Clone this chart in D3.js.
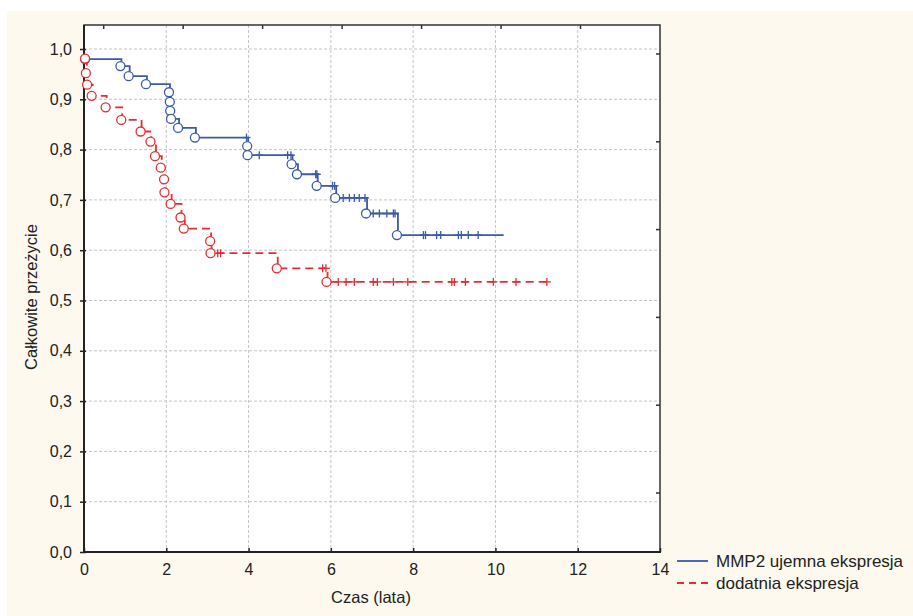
<!DOCTYPE html>
<html><head><meta charset="utf-8">
<script src="https://cdn.jsdelivr.net/npm/d3@7"></script>
<style>
body{margin:0;background:#fff;}
svg{display:block;font-family:"Liberation Sans",Arial,sans-serif;}
</style></head>
<body>
<svg id="c" width="913" height="616"></svg>
<script>
// ---- data ----
const xTicks = [0, 2, 4, 6, 8, 10, 12, 14];
const yTicks = [0, 0.1, 0.2, 0.3, 0.4, 0.5, 0.6, 0.7, 0.8, 0.9, 1.0];
const topTicks = [0, 1, 2, 3, 4, 5, 6];
const rightTicks = [0, 1, 2, 3, 4, 5];
const seriesNames = ["MMP2 ujemna ekspresja", "dodatnia ekspresja"];

// blue: complete events [time, survival after event]
const blueEvents = [
  [0.05, 0.980], [0.91, 0.966], [1.11, 0.946], [1.53, 0.930],
  [2.09, 0.914], [2.11, 0.895], [2.12, 0.877], [2.14, 0.861],
  [2.31, 0.843], [2.72, 0.824], [3.99, 0.807], [4.00, 0.789],
  [5.07, 0.771], [5.20, 0.751], [5.68, 0.728], [6.13, 0.704],
  [6.88, 0.673], [7.63, 0.630]
];
const blueEnd = 10.2;
// blue censored [time, survival]
const blueCensored = [
  [3.95, 0.824], [4.26, 0.789], [4.95, 0.789], [5.03, 0.789],
  [5.63, 0.751], [5.66, 0.751], [6.04, 0.728], [6.09, 0.728],
  [6.30, 0.704], [6.45, 0.704], [6.57, 0.704], [6.69, 0.704], [6.83, 0.704],
  [7.03, 0.673], [7.18, 0.673], [7.36, 0.673], [7.52, 0.673], [7.56, 0.673],
  [8.25, 0.630], [8.30, 0.630], [8.57, 0.630], [8.67, 0.630],
  [9.10, 0.630], [9.17, 0.630], [9.34, 0.630], [9.58, 0.630]
];

// red
const redEvents = [
  [0.05, 0.981], [0.07, 0.952], [0.10, 0.929], [0.21, 0.907],
  [0.55, 0.884], [0.93, 0.859], [1.40, 0.836], [1.64, 0.816],
  [1.75, 0.787], [1.89, 0.764], [1.97, 0.741], [1.98, 0.715],
  [2.13, 0.692], [2.37, 0.665], [2.45, 0.643], [3.09, 0.618],
  [3.10, 0.594], [4.71, 0.564], [5.92, 0.537]
];
const redEnd = 11.25;
const redCensored = [
  [3.25, 0.594], [3.32, 0.594], [5.80, 0.564], [5.88, 0.564],
  [6.18, 0.537], [6.37, 0.537], [6.57, 0.537], [7.03, 0.537], [7.13, 0.537],
  [7.52, 0.537], [7.87, 0.537], [8.94, 0.537], [9.00, 0.537], [9.27, 0.537],
  [9.95, 0.537], [10.50, 0.537], [11.25, 0.537]
];

// ---- drawing ----
const svg = d3.select("#c");
const L = 84, R = 660, T = 25, B = 552;
const x = d3.scaleLinear().domain([0, 14]).range([L, R]);
const y = d3.scaleLinear().domain([0, 1]).range([B, 49]);
const xTop = d3.scaleLinear().domain([0, 6]).range([103.7, 580.5]);
const yRight = d3.scaleLinear().domain([0, 5]).range([54, 493]);

const BLUE = "#3b5ba8", RED = "#ec2b30";

svg.append("rect").attr("x", 7).attr("y", 11).attr("width", 906).attr("height", 605).attr("fill", "#fdf9ee");
svg.append("rect").attr("x", L).attr("y", T).attr("width", R - L).attr("height", B - T).attr("fill", "#fff");

// grid
const grid = svg.append("g").attr("stroke", "#c4c4c4").attr("stroke-width", 1).attr("stroke-dasharray", "3,2");
grid.selectAll(".gx").data(xTicks.filter(d => d > 0 && d < 14)).join("line")
  .attr("x1", d => x(d)).attr("x2", d => x(d)).attr("y1", T).attr("y2", B);
grid.selectAll(".gy").data(yTicks.filter(d => d > 0)).join("line")
  .attr("y1", d => y(d)).attr("y2", d => y(d)).attr("x1", L).attr("x2", R);

// frame
svg.append("rect").attr("x", L).attr("y", T).attr("width", R - L).attr("height", B - T)
  .attr("fill", "none").attr("stroke", "#333").attr("stroke-width", 1.5);
svg.append("line").attr("x1", L).attr("x2", L).attr("y1", T).attr("y2", B + 1).attr("stroke", "#222").attr("stroke-width", 2);
svg.append("line").attr("x1", L - 1).attr("x2", R + 1).attr("y1", B).attr("y2", B).attr("stroke", "#222").attr("stroke-width", 2);

// axes
const fmt = d3.format(".1f");
const yAxis = d3.axisLeft(y).tickValues(yTicks).tickSize(4).tickPadding(8)
  .tickFormat(d => fmt(d).replace(".", ","));
const gy = svg.append("g").attr("transform", `translate(${L},0)`).call(yAxis);
gy.select(".domain").remove();
gy.selectAll(".tick line").attr("stroke", "#222").attr("stroke-width", 1.5).attr("x1", 2);
gy.selectAll(".tick text").attr("font-size", 16).attr("fill", "#222");

const xAxis = d3.axisBottom(x).tickValues(xTicks).tickSize(3).tickPadding(9);
const gx = svg.append("g").attr("transform", `translate(0,${B})`).call(xAxis);
gx.select(".domain").remove();
gx.selectAll(".tick line").attr("stroke", "#222").attr("stroke-width", 1.5).attr("y1", -4).attr("y2", 0);
gx.selectAll(".tick text").attr("font-size", 16).attr("fill", "#222");

// top & right inner ticks
svg.append("g").selectAll("line").data(topTicks).join("line")
  .attr("x1", d => xTop(d)).attr("x2", d => xTop(d)).attr("y1", T).attr("y2", T + 4)
  .attr("stroke", "#333").attr("stroke-width", 1.5);
svg.append("g").selectAll("line").data(rightTicks).join("line")
  .attr("x1", R - 4).attr("x2", R).attr("y1", d => yRight(d)).attr("y2", d => yRight(d))
  .attr("stroke", "#333").attr("stroke-width", 1.5);

// titles
svg.append("text").attr("x", 371).attr("y", 603).attr("text-anchor", "middle")
  .attr("font-size", 16.5).attr("fill", "#222").text("Czas (lata)");
svg.append("text").attr("transform", "translate(37,297) rotate(-90)").attr("text-anchor", "middle")
  .attr("font-size", 16.5).attr("fill", "#222").text("Całkowite przeżycie");

// series
const line = d3.line().x(d => x(d[0])).y(d => y(d[1])).curve(d3.curveStepAfter);
function drawSeries(events, end, censored, color, dash) {
  const pts = events.slice();
  pts.push([end, events[events.length - 1][1]]);
  const g = svg.append("g");
  g.append("path").attr("d", line(pts)).attr("fill", "none").attr("stroke", color)
    .attr("stroke-width", 1.8).attr("stroke-dasharray", dash);
  const cg = g.append("g").attr("stroke", color).attr("stroke-width", 1.3);
  cg.selectAll("line.v").data(censored).join("line")
    .attr("x1", d => x(d[0])).attr("x2", d => x(d[0]))
    .attr("y1", d => y(d[1]) - 4).attr("y2", d => y(d[1]) + 4);
  cg.selectAll("line.h").data(censored).join("line")
    .attr("x1", d => x(d[0]) - 4).attr("x2", d => x(d[0]) + 4)
    .attr("y1", d => y(d[1])).attr("y2", d => y(d[1]));
  g.selectAll("circle").data(events).join("circle")
    .attr("cx", d => x(d[0]) - 1).attr("cy", d => y(d[1])).attr("r", 4.5)
    .attr("fill", "#fff").attr("stroke", color).attr("stroke-width", 1.3);
}
drawSeries(blueEvents, blueEnd, blueCensored, BLUE, null);
drawSeries(redEvents, redEnd, redCensored, RED, "8,5");

// legend
const legend = [
  {name: seriesNames[0], color: BLUE, dash: null, y: 561},
  {name: seriesNames[1], color: RED, dash: "7,5", y: 583}
];
const lg = svg.append("g");
lg.selectAll("line").data(legend).join("line")
  .attr("x1", 677).attr("x2", 708).attr("y1", d => d.y).attr("y2", d => d.y)
  .attr("stroke", d => d.color).attr("stroke-width", 1.8).attr("stroke-dasharray", d => d.dash);
lg.selectAll("text").data(legend).join("text")
  .attr("x", 716).attr("y", d => d.y + 5.5).attr("font-size", 17).attr("fill", "#222")
  .text(d => d.name);
</script>
</body></html>
